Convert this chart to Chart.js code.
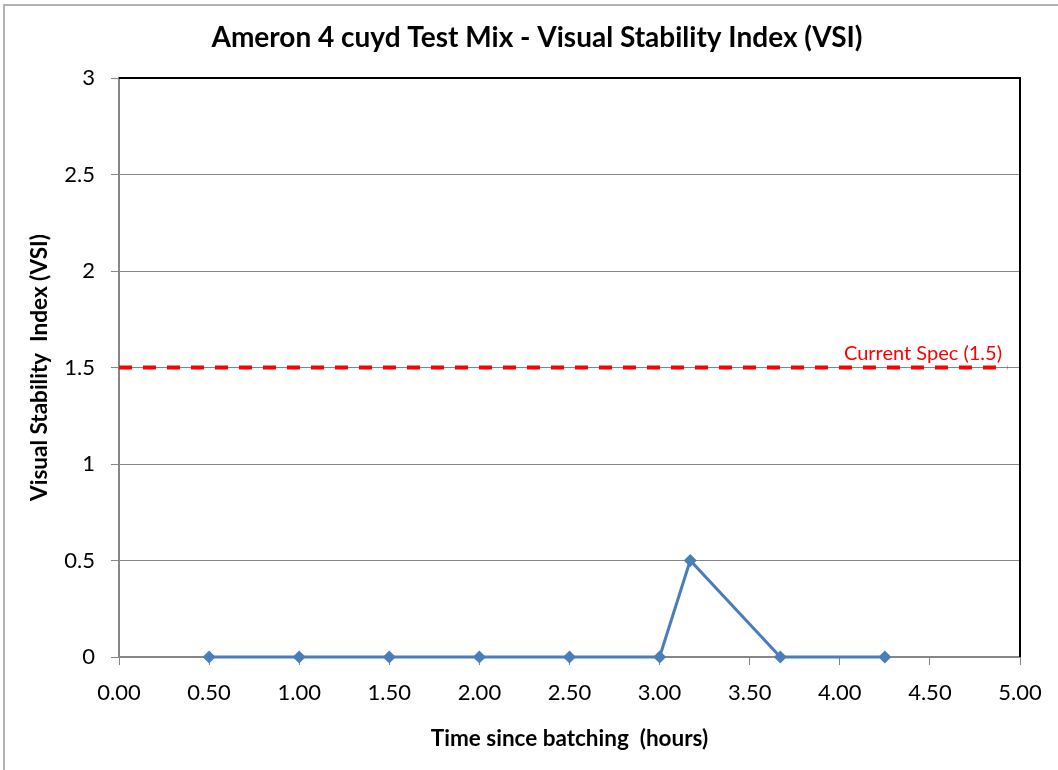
<!DOCTYPE html>
<html>
<head>
<meta charset="utf-8">
<script src="https://cdn.jsdelivr.net/npm/chart.js@4.4.1/dist/chart.umd.min.js"></script>
<style>
  html, body { margin: 0; padding: 0; background: #ffffff; }
  #wrap { width: 1058px; height: 770px; position: relative; }
</style>
</head>
<body>
<div id="wrap"><canvas id="c" width="1058" height="770"></canvas></div>
<script>
// ---- data ----
const chartTitle = 'Ameron 4 cuyd Test Mix - Visual Stability Index (VSI)';
const xTitle = 'Time since batching  (hours)';
const yTitle = 'Visual Stability  Index (VSI)';
const timeHours = [0.5, 1.0, 1.5, 2.0, 2.5, 3.0, 3.17, 3.67, 4.25];
const vsiValues = [0, 0, 0, 0, 0, 0, 0.5, 0, 0];
const specX = [0, 4.93];
const specY = [1.5, 1.5];
const specLabel = 'Current Spec (1.5)';
const xMin = 0, xMax = 5, xStep = 0.5;
const yMin = 0, yMax = 3, yStep = 0.5;

const FONT = 'Lato, "Open Sans", sans-serif';

const framePlugin = {
  id: 'frame',
  afterDatasetsDraw(chart) {
    const ctx = chart.ctx, a = chart.chartArea;
    ctx.save();
    // plot area top and right border (black)
    ctx.strokeStyle = '#000000';
    ctx.lineWidth = 2;
    ctx.beginPath();
    ctx.moveTo(a.left, a.top);
    ctx.lineTo(a.right, a.top);
    ctx.lineTo(a.right, a.bottom);
    ctx.stroke();
    // chart title
    ctx.fillStyle = '#000000';
    ctx.font = 'bold 28px ' + FONT;
    ctx.textAlign = 'center';
    ctx.textBaseline = 'middle';
    ctx.fillText(chartTitle, 537, 38);
    // spec label
    const xs = chart.scales.x, ys = chart.scales.y;
    ctx.fillStyle = '#ff0000';
    ctx.font = '20px ' + FONT;
    ctx.textAlign = 'right';
    ctx.textBaseline = 'alphabetic';
    ctx.fillText(specLabel, xs.getPixelForValue(4.9), ys.getPixelForValue(specY[0]) - 8);
    // outer chart border (grey)
    ctx.strokeStyle = '#b3b3b3';
    ctx.lineWidth = 2;
    ctx.beginPath();
    ctx.moveTo(4, 770);
    ctx.lineTo(4, 5);
    ctx.lineTo(1058, 5);
    ctx.stroke();
    ctx.restore();
  }
};

new Chart(document.getElementById('c'), {
  type: 'scatter',
  data: {
    datasets: [
      {
        label: 'Spec',
        data: specX.map((x, i) => ({ x, y: specY[i] })),
        showLine: true,
        borderColor: '#ff0000',
        borderWidth: 4,
        borderDash: [13, 11],
        pointRadius: 0,
        clip: false,
        order: 2
      },
      {
        label: 'VSI',
        data: timeHours.map((x, i) => ({ x, y: vsiValues[i] })),
        showLine: true,
        borderColor: '#4a7ebb',
        backgroundColor: '#4a7ebb',
        borderWidth: 3,
        pointStyle: 'rectRot',
        pointRadius: 6.5,
        pointBorderWidth: 0,
        clip: false,
        order: 1
      }
    ]
  },
  options: {
    responsive: false,
    animation: false,
    devicePixelRatio: 1,
    layout: { padding: { left: 0, right: 38, top: 78, bottom: 0 } },
    plugins: {
      legend: { display: false },
      tooltip: { enabled: false },
      title: { display: false }
    },
    scales: {
      x: {
        type: 'linear',
        min: xMin, max: xMax,
        afterFit(s) { s.height = 113; },
        ticks: {
          stepSize: xStep,
          color: '#000000',
          font: { family: FONT, size: 22 },
          padding: 15,
          callback: v => Number(v).toFixed(2)
        },
        grid: {
          drawOnChartArea: false,
          drawTicks: true,
          tickLength: 8,
          color: '#868686',
          lineWidth: 1
        },
        border: { color: '#868686', width: 2 },
        title: {
          display: true,
          text: xTitle,
          color: '#000000',
          font: { family: FONT, size: 22.5, weight: 'bold' },
          padding: { top: 0, bottom: 18 }
        }
      },
      y: {
        type: 'linear',
        min: yMin, max: yMax,
        afterFit(s) { s.width = 119; },
        ticks: {
          stepSize: yStep,
          color: '#000000',
          font: { family: FONT, size: 22 },
          padding: 16,
          callback: v => String(v)
        },
        grid: {
          drawOnChartArea: true,
          drawTicks: true,
          tickLength: 8,
          color: '#868686',
          lineWidth: 1
        },
        border: { color: '#868686', width: 2 },
        title: {
          display: true,
          text: yTitle,
          color: '#000000',
          font: { family: FONT, size: 22.5, weight: 'bold' },
          padding: { top: 26, bottom: 0 }
        }
      }
    }
  },
  plugins: [framePlugin]
});
</script>
</body>
</html>
